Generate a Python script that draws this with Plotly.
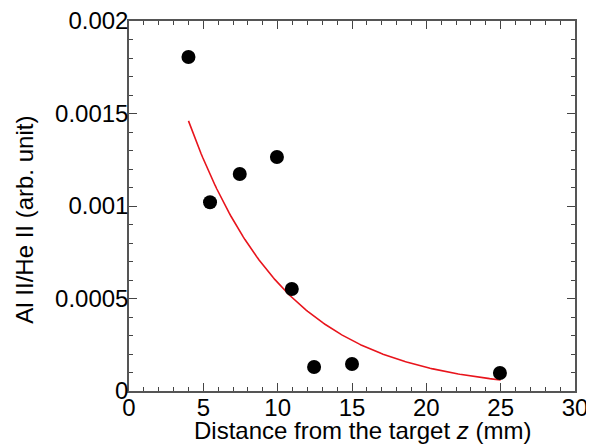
import numpy as np
import plotly.graph_objects as go

# Measured data
distance_mm = [4.0, 5.45, 7.45, 9.95, 10.95, 12.45, 15.0, 24.95]
ratio = [0.001805, 0.00102, 0.001173, 0.001265, 0.000551, 0.00013, 0.000146, 0.0000975]

# Exponential fit parameters (y = A * exp(-k * (z - z0)))
fit_A = 0.00146
fit_k = 0.1523
fit_z0 = 4.0
fit_range = [4.0, 25.0]

y_tickvals = [0, 0.0005, 0.001, 0.0015, 0.002]
y_ticktext = ["0", "0.0005", "0.001", "0.0015", "0.002"]
x_tickvals = [0, 5, 10, 15, 20, 25, 30]
x_ticktext = ["0", "5", "10", "15", "20", "25", "30"]

x_title = "Distance from the target <i>z</i> (mm)"
y_title = "Al II/He II (arb. unit)"

z_fit = np.linspace(fit_range[0], fit_range[1], 200)
y_fit = fit_A * np.exp(-fit_k * (z_fit - fit_z0))

fig = go.Figure()
fig.add_trace(go.Scatter(x=z_fit, y=y_fit, mode="lines",
                         line=dict(color="#e8141c", width=1.6), showlegend=False))
fig.add_trace(go.Scatter(x=distance_mm, y=ratio, mode="markers",
                         marker=dict(color="black", size=14), showlegend=False))

font = "Liberation Sans, Arial, sans-serif"
axis_common = dict(
    automargin=False, ticklabeloverflow="allow",
    showgrid=False, zeroline=False, showline=True, linecolor="#555555", linewidth=1.5,
    mirror="ticks", ticks="inside", tickcolor="#444444", tickwidth=1.3,
    tickfont=dict(family=font, size=24, color="black"),
)
# page body has an 8px margin; figure is sized/offset to compensate
fig.update_layout(
    width=586, height=436,
    margin=dict(l=121, r=19, t=13, b=53, autoexpand=False),
    paper_bgcolor="white", plot_bgcolor="white",
    xaxis=dict(range=[0, 30], tickvals=x_tickvals, ticktext=x_ticktext, ticklen=8,
               ticklabelstandoff=-6,
               minor=dict(dtick=1, ticks="inside", ticklen=4, tickcolor="#444444", tickwidth=1.2),
               **axis_common),
    yaxis=dict(range=[0, 0.002], tickvals=y_tickvals, ticktext=y_ticktext, ticklen=8,
               ticklabelstandoff=-6,
               minor=dict(dtick=0.0001, tick0=0, ticks="inside", ticklen=4, tickcolor="#444444", tickwidth=1.2),
               **axis_common),
    annotations=[
        dict(text=x_title, xref="paper", yref="paper", x=0.523, y=-0.106,
             xanchor="center", yanchor="middle", showarrow=False,
             font=dict(family=font, size=24, color="black")),
        dict(text=y_title, xref="paper", yref="paper", x=-0.235, y=0.4635,
             xanchor="center", yanchor="middle", showarrow=False, textangle=-90,
             font=dict(family=font, size=24, color="black")),
    ],
)
fig.write_html("out.html")
